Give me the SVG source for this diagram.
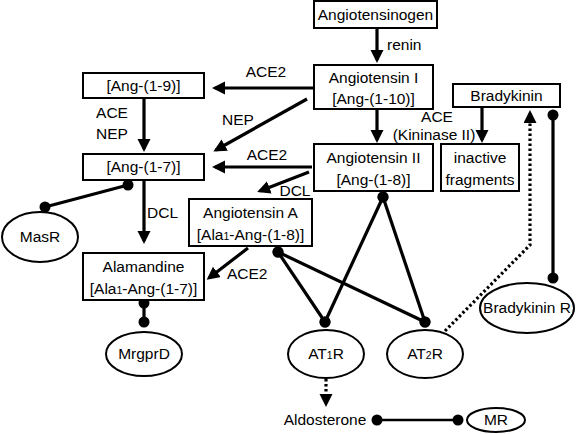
<svg xmlns="http://www.w3.org/2000/svg" width="578" height="434" viewBox="0 0 578 434">
<defs>
<style>
text{font-family:"Liberation Sans",Arial,sans-serif;font-size:15.5px;fill:#000}
.c{text-anchor:middle}
.box{fill:#fff;stroke:#000;stroke-width:2}
.ell{fill:#fff;stroke:#000;stroke-width:2}
.ln{fill:none;stroke:#000;stroke-width:3.2}
.arr{marker-end:url(#ah)}
.dot{marker-start:url(#dt);marker-end:url(#dt)}
.dash{stroke-dasharray:2.5 2.5}
.sub{font-size:10.5px}
</style>
<marker id="ah" markerUnits="userSpaceOnUse" markerWidth="14" markerHeight="14" refX="10" refY="6.5" orient="auto"><path d="M0,0 L13,6.5 L0,13 Z" fill="#000"/></marker>
<marker id="dt" markerUnits="userSpaceOnUse" markerWidth="12" markerHeight="12" refX="6" refY="6"><circle cx="6" cy="6" r="5.5" fill="#000"/></marker>
</defs>
<g id="connectors">
<line class="ln arr" x1="377" y1="29" x2="377" y2="60"/>
<line class="ln arr" x1="377" y1="109" x2="377" y2="140"/>
<line class="ln arr" x1="313" y1="88" x2="215" y2="88"/>
<line class="ln arr" x1="307" y1="99" x2="216" y2="150"/>
<line class="ln arr" x1="144" y1="98" x2="144" y2="149"/>
<line class="ln arr" x1="312" y1="167" x2="215" y2="167"/>
<line class="ln arr" x1="309" y1="172" x2="260" y2="191"/>
<line class="ln arr" x1="144" y1="180" x2="144" y2="241"/>
<line class="ln arr" x1="248" y1="248" x2="209" y2="278"/>
<line class="ln arr" x1="482" y1="107" x2="482" y2="140"/>
<line class="ln dot" x1="128" y1="185" x2="45" y2="207"/>
<line class="ln dot" x1="144" y1="303" x2="144" y2="322"/>
<line class="ln dot" x1="383" y1="197" x2="325" y2="322"/>
<line class="ln dot" x1="383" y1="197" x2="425" y2="322"/>
<line class="ln dot" x1="278" y1="252" x2="325" y2="322"/>
<line class="ln dot" x1="278" y1="252" x2="425" y2="322"/>
<line class="ln dot" x1="553" y1="115" x2="553" y2="278"/>
<polyline class="ln dash arr" points="445,331 530,245 530,113"/>
<line class="ln dash arr" x1="326" y1="379" x2="326" y2="404"/>
<line class="dot" x1="377" y1="420" x2="458" y2="420" stroke="#000" stroke-width="2.5"/>
<text x="387" y="50">renin</text>
<text class="c" x="266" y="77">ACE2</text>
<text class="c" x="238" y="125">NEP</text>
<text class="c" x="112" y="118">ACE</text>
<text class="c" x="112" y="139">NEP</text>
<text class="c" x="267" y="160">ACE2</text>
<text class="c" x="295" y="196">DCL</text>
<text x="147" y="218">DCL</text>
<text x="227" y="279">ACE2</text>
<text class="c" x="437" y="122">ACE</text>
<text class="c" x="434" y="140">(Kininase II)</text>
</g>
<g id="angiotensinogen"><rect class="box" x="314" y="1" width="123" height="27"/><text class="c" x="375.5" y="20">Angiotensinogen</text></g>
<g id="angI"><rect class="box" x="314" y="65" width="119" height="44"/><text class="c" x="373.5" y="83">Angiotensin I</text><text class="c" x="373.5" y="104">[Ang-(1-10)]</text></g>
<g id="angII"><rect class="box" x="314" y="144" width="119" height="47"/><text class="c" x="373.5" y="163">Angiotensin II</text><text class="c" x="373.5" y="185">[Ang-(1-8)]</text></g>
<g id="ang19"><rect class="box" x="83" y="73" width="121" height="25"/><text class="c" x="143.5" y="91">[Ang-(1-9)]</text></g>
<g id="ang17"><rect class="box" x="83" y="154" width="121" height="26"/><text class="c" x="143.5" y="172">[Ang-(1-7)]</text></g>
<g id="angA"><rect class="box" x="189" y="199" width="123" height="47"/><text class="c" x="250.5" y="218">Angiotensin A</text><text class="c" x="250.5" y="240">[Ala<tspan class="sub">1</tspan>-Ang-(1-8)]</text></g>
<g id="alamandine"><rect class="box" x="83" y="253" width="121" height="47"/><text class="c" x="143.5" y="272">Alamandine</text><text class="c" x="143.5" y="294">[Ala<tspan class="sub">1</tspan>-Ang-(1-7)]</text></g>
<g id="bradykinin"><rect class="box" x="453" y="84" width="107" height="23"/><text class="c" x="506.5" y="101">Bradykinin</text></g>
<g id="inactive"><rect class="box" x="441" y="144" width="78" height="47"/><text class="c" x="480" y="163">inactive</text><text class="c" x="480" y="185">fragments</text></g>
<g id="masR"><ellipse class="ell" cx="40" cy="237" rx="38" ry="25"/><text class="c" x="40" y="242">MasR</text></g>
<g id="mrgprD"><ellipse class="ell" cx="144" cy="354" rx="38" ry="22"/><text class="c" x="144" y="359">MrgprD</text></g>
<g id="at1r"><ellipse class="ell" cx="326" cy="354" rx="38" ry="24"/><text class="c" x="326" y="359">AT<tspan class="sub">1</tspan>R</text></g>
<g id="at2r"><ellipse class="ell" cx="425" cy="354" rx="38" ry="24"/><text class="c" x="425" y="359">AT<tspan class="sub">2</tspan>R</text></g>
<g id="bradykininR"><ellipse class="ell" cx="527" cy="308" rx="47" ry="25"/><text class="c" x="527" y="313">Bradykinin R</text></g>
<g id="aldosterone"><text class="c" x="325" y="425">Aldosterone</text></g>
<g id="mr"><ellipse class="ell" cx="496" cy="420" rx="29" ry="12"/><text class="c" x="496" y="425">MR</text></g>
</svg>
